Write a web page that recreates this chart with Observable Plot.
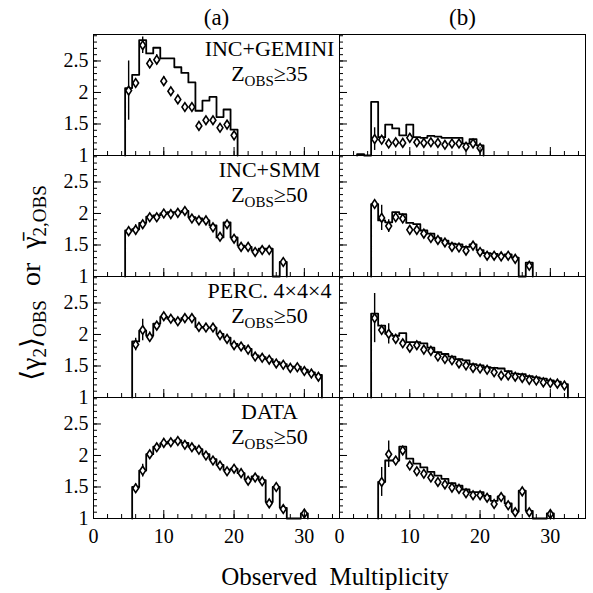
<!DOCTYPE html>
<html>
<head>
<meta charset="utf-8">
<script src="https://cdn.jsdelivr.net/npm/d3@7"></script>
<script src="https://cdn.jsdelivr.net/npm/@observablehq/plot@0.6"></script>
<style>
  html, body { margin: 0; padding: 0; background: #fff; }
  #chart { width: 593px; height: 593px; }
</style>
</head>
<body>
<div id="chart"></div>
<script>
// ---------- categories & tick labels ----------
const columns = ["(a)", "(b)"];
const models = ["INC+GEMINI", "INC+SMM", "PERC. 4×4×4", "DATA"];
const zCuts = ["Z_OBS≥35", "Z_OBS≥50", "Z_OBS≥50", "Z_OBS≥50"];
const xTicksMajor = [0, 10, 20, 30];
const xTicksMinor = [0, 2, 4, 6, 8, 10, 12, 14, 16, 18, 20, 22, 24, 26, 28, 30, 32, 34];
const yTicksMajor = [1, 1.5, 2, 2.5];
const yTicksMinor = [1.1, 1.2, 1.3, 1.4, 1.5, 1.6, 1.7, 1.8, 1.9, 2.0, 2.1, 2.2, 2.3, 2.4, 2.5, 2.6, 2.7, 2.8, 2.9];

// ---------- series: histogram (first multiplicity + one value per bin) ----------
const histStart_gemA = 5;
const hist_gemA = [2.07, 2.28, 2.83, 2.62, 2.71, 2.54, 2.54, 2.40, 2.31, 2.16, 1.71, 1.87, 1.93, 1.61, 1.73, 1.41];
const histStart_gemB = 3;
const hist_gemB = [1.02, 1.0, 1.85, 1.29, 1.49, 1.43, 1.32, 1.49, 1.29, 1.28, 1.31, 1.30, 1.28, 1.28, 1.28, 1.19, 1.26, 1.16];
const histStart_smmA = 5;
const hist_smmA = [1.73, 1.75, 1.85, 1.95, 1.97, 2.00, 2.02, 2.02, 2.04, 1.94, 1.92, 1.89, 1.81, 1.62, 1.86, 1.62, 1.49, 1.47, 1.41, 1.44, 1.44, 1.0, 1.23];
const histStart_smmB = 5;
const hist_smmB = [2.15, 1.89, 1.86, 2.02, 1.99, 1.85, 1.83, 1.73, 1.68, 1.61, 1.57, 1.52, 1.51, 1.47, 1.51, 1.42, 1.37, 1.36, 1.33, 1.35, 1.30, 1.0, 1.22];
const histStart_percA = 6;
const hist_percA = [1.89, 2.06, 1.98, 2.17, 2.28, 2.25, 2.22, 2.26, 2.26, 2.12, 2.11, 2.11, 2.01, 1.95, 1.85, 1.82, 1.77, 1.67, 1.64, 1.61, 1.56, 1.53, 1.49, 1.49, 1.44, 1.40, 1.36];
const histStart_percB = 5;
const hist_percB = [2.33, 2.14, 2.01, 1.98, 2.02, 1.88, 1.88, 1.86, 1.79, 1.72, 1.69, 1.65, 1.61, 1.59, 1.53, 1.51, 1.48, 1.47, 1.46, 1.42, 1.38, 1.37, 1.34, 1.32, 1.30, 1.27, 1.25, 1.21];
const histStart_dataA = 6;
const hist_dataA = [1.50, 1.76, 2.02, 2.14, 2.19, 2.22, 2.24, 2.20, 2.14, 2.10, 2.02, 1.94, 1.85, 1.77, 1.79, 1.72, 1.62, 1.67, 1.61, 1.26, 1.50, 1.17, 1.0, 1.0, 1.08];
const histStart_dataB = 6;
const hist_dataB = [1.58, 1.92, 1.92, 2.14, 1.95, 1.87, 1.81, 1.74, 1.68, 1.63, 1.56, 1.52, 1.46, 1.42, 1.42, 1.36, 1.28, 1.35, 1.24, 1.11, 1.44, 1.12, 1.0, 1.0, 1.08];

// ---------- series: diamonds (first multiplicity + value per bin, null = none) ----------
const ptsStart_gemA = 5;
const pts_gemA = [2.03, 2.15, 2.75, 2.46, 2.52, 2.18, 2.02, 1.89, 1.77, 1.77, 1.47, 1.56, 1.56, 1.44, 1.49, 1.32];
const err_gemA = [0.47, 0.05, 0.13, 0.08, 0.08, 0.07, 0.05, 0.04, 0.04, 0.04, 0.04, 0.04, 0.04, 0.04, 0.04, 0.04];
const ptsStart_gemB = 5;
const pts_gemB = [1.26, 1.25, 1.19, 1.21, 1.20, 1.28, 1.21, 1.20, 1.21, 1.20, 1.17, 1.19, 1.19, 1.14, 1.19, 1.12];
const err_gemB = [0.18, 0.07, 0.04, 0.04, 0.04, 0.07, 0.04, 0.03, 0.03, 0.03, 0.03, 0.03, 0.03, 0.03, 0.03, 0.03];
const ptsStart_smmA = 5;
const pts_smmA = [1.72, 1.74, 1.83, 1.94, 1.94, 2.00, 1.99, 2.01, 2.04, 1.92, 1.89, 1.89, 1.78, 1.63, 1.83, 1.60, 1.47, 1.47, 1.39, 1.42, 1.42, null, 1.23];
const err_smmA = [0.04, 0.08, 0.05, 0.04, 0.03, 0.03, 0.03, 0.03, 0.03, 0.03, 0.03, 0.03, 0.03, 0.03, 0.04, 0.03, 0.03, 0.03, 0.03, 0.03, 0.03, null, 0.04];
const ptsStart_smmB = 5;
const pts_smmB = [2.15, 1.93, 1.80, 1.94, 1.92, 1.74, 1.74, 1.68, 1.61, 1.58, 1.54, 1.47, 1.46, 1.41, 1.49, 1.39, 1.33, 1.33, 1.32, 1.33, 1.28, null, 1.17];
const err_smmB = [0.04, 0.20, 0.10, 0.04, 0.03, 0.03, 0.03, 0.03, 0.03, 0.03, 0.03, 0.03, 0.03, 0.03, 0.03, 0.03, 0.03, 0.03, 0.03, 0.03, 0.03, null, 0.04];
const ptsStart_percA = 6;
const pts_percA = [1.84, 2.07, 1.96, 2.14, 2.29, 2.25, 2.21, 2.26, 2.26, 2.12, 2.11, 2.11, 1.99, 1.93, 1.83, 1.81, 1.76, 1.65, 1.63, 1.60, 1.54, 1.52, 1.47, 1.48, 1.42, 1.38, 1.33];
const err_percA = [0.10, 0.17, 0.08, 0.04, 0.03, 0.03, 0.03, 0.03, 0.03, 0.03, 0.03, 0.03, 0.03, 0.03, 0.03, 0.03, 0.03, 0.03, 0.03, 0.03, 0.03, 0.03, 0.03, 0.03, 0.03, 0.03, 0.03];
const ptsStart_percB = 5;
const pts_percB = [2.26, 2.07, 2.01, 1.93, 1.86, 1.79, 1.83, 1.76, 1.74, 1.65, 1.61, 1.59, 1.54, 1.51, 1.47, 1.46, 1.44, 1.40, 1.35, 1.35, 1.33, 1.31, 1.28, 1.27, 1.24, 1.23, 1.22, 1.19];
const err_percB = [0.39, 0.04, 0.16, 0.03, 0.03, 0.03, 0.03, 0.03, 0.03, 0.03, 0.03, 0.03, 0.03, 0.03, 0.03, 0.03, 0.03, 0.03, 0.03, 0.03, 0.03, 0.03, 0.03, 0.03, 0.03, 0.03, 0.03, 0.03];
const ptsStart_dataA = 6;
const pts_dataA = [1.48, 1.76, 2.02, 2.13, 2.20, 2.21, 2.23, 2.17, 2.13, 2.09, 2.00, 1.92, 1.84, 1.75, 1.79, 1.72, 1.60, 1.65, 1.59, 1.24, 1.50, 1.15, null, null, 1.08];
const err_dataA = [0.07, 0.10, 0.04, 0.03, 0.03, 0.03, 0.03, 0.03, 0.03, 0.03, 0.03, 0.03, 0.03, 0.03, 0.03, 0.03, 0.03, 0.03, 0.03, 0.04, 0.04, 0.04, null, null, 0.05];
const ptsStart_dataB = 6;
const pts_dataB = [1.58, 2.02, 1.92, 2.08, 1.84, 1.75, 1.71, 1.65, 1.58, 1.54, 1.49, 1.47, 1.40, 1.37, 1.37, 1.33, 1.23, 1.34, 1.21, 1.10, 1.43, 1.10, null, null, 1.07];
const err_dataB = [0.23, 0.21, 0.06, 0.03, 0.03, 0.03, 0.03, 0.03, 0.03, 0.03, 0.03, 0.03, 0.03, 0.03, 0.03, 0.03, 0.03, 0.03, 0.03, 0.04, 0.04, 0.04, null, null, 0.05];

// ---------- tables for the library ----------
const panels = [
  {col: columns[0], row: models[0], hs: histStart_gemA, h: hist_gemA, ps: ptsStart_gemA, p: pts_gemA, e: err_gemA},
  {col: columns[1], row: models[0], hs: histStart_gemB, h: hist_gemB, ps: ptsStart_gemB, p: pts_gemB, e: err_gemB},
  {col: columns[0], row: models[1], hs: histStart_smmA, h: hist_smmA, ps: ptsStart_smmA, p: pts_smmA, e: err_smmA},
  {col: columns[1], row: models[1], hs: histStart_smmB, h: hist_smmB, ps: ptsStart_smmB, p: pts_smmB, e: err_smmB},
  {col: columns[0], row: models[2], hs: histStart_percA, h: hist_percA, ps: ptsStart_percA, p: pts_percA, e: err_percA},
  {col: columns[1], row: models[2], hs: histStart_percB, h: hist_percB, ps: ptsStart_percB, p: pts_percB, e: err_percB},
  {col: columns[0], row: models[3], hs: histStart_dataA, h: hist_dataA, ps: ptsStart_dataA, p: pts_dataA, e: err_dataA},
  {col: columns[1], row: models[3], hs: histStart_dataB, h: hist_dataB, ps: ptsStart_dataB, p: pts_dataB, e: err_dataB}
];
const yBase = 1;
const steps = [];
const points = [];
panels.forEach((P, k) => {
  const id = "p" + k;
  steps.push({id, col: P.col, row: P.row, x: P.hs - 0.5, y: yBase});
  P.h.forEach((v, i) => {
    const m = P.hs + i;
    steps.push({id, col: P.col, row: P.row, x: m - 0.5, y: v});
    steps.push({id, col: P.col, row: P.row, x: m + 0.5, y: v});
  });
  steps.push({id, col: P.col, row: P.row, x: P.hs + P.h.length - 0.5, y: yBase});
  P.p.forEach((v, i) => {
    if (v == null) return;
    points.push({col: P.col, row: P.row, m: P.ps + i, v, e: P.e[i]});
  });
});
const annot = models.map((m, i) => ({col: columns[0], row: m, name: m, z: zCuts[i]}));

// tall open diamond (ROOT style)
const tallDiamond = {
  draw(ctx, size) {
    const r = Math.sqrt(size / Math.PI);
    ctx.moveTo(0, -1.5 * r);
    ctx.lineTo(r, 0);
    ctx.lineTo(0, 1.5 * r);
    ctx.lineTo(-r, 0);
    ctx.closePath();
  }
};

const serif = "'Liberation Serif', 'DejaVu Serif', serif";
const plot = Plot.plot({
  width: 593,
  height: 593,
  marginLeft: 93,
  marginRight: 8,
  marginTop: 33,
  marginBottom: 75,
  style: {fontFamily: serif, fontSize: "20px", color: "#000", background: "#fff", overflow: "visible"},
  x: {domain: [0, 35]},
  y: {domain: [1, 2.92]},
  fx: {domain: columns, padding: 0},
  fy: {domain: models, padding: 0, axis: null},
  marks: [
    Plot.frame({stroke: "#000", strokeWidth: 1}),
    Plot.line(steps, {x: "x", y: "y", z: "id", fx: "col", fy: "row", stroke: "#000", strokeWidth: 1.8, curve: "linear"}),
    Plot.ruleX(points, {x: "m", y1: d => d.v - d.e, y2: d => d.v + d.e, fx: "col", fy: "row", stroke: "#000", strokeWidth: 1.4}),
    Plot.dot(points, {x: "m", y: "v", fx: "col", fy: "row", symbol: tallDiamond, r: 2.9, stroke: "#000", fill: "#fff", strokeWidth: 1.6}),
    // inward ticks on every panel
    Plot.axisX(xTicksMinor, {anchor: "bottom", tickSize: -4, fill: "none", label: null, facetAnchor: null}),
    Plot.axisX(xTicksMajor, {anchor: "bottom", tickSize: -8, fill: "none", label: null, facetAnchor: null}),
    Plot.axisY(yTicksMinor, {anchor: "left", tickSize: -4, fill: "none", label: null, facetAnchor: null}),
    Plot.axisY(yTicksMajor, {anchor: "left", tickSize: -8, fill: "none", label: null, facetAnchor: null}),
    // tick labels
    Plot.axisX(xTicksMajor, {anchor: "bottom", tickSize: 0, tickPadding: 10, fontSize: 20, label: null}),
    Plot.axisY(yTicksMajor, {anchor: "left", tickSize: 0, tickPadding: 5, fontSize: 20, label: null, tickFormat: d => String(d)}),
    Plot.axisFx({anchor: "top", tickSize: 0, tickPadding: 10, fontSize: 23, label: null}),
    // panel annotations
    Plot.text(annot, {fx: "col", fy: "row", text: "name", frameAnchor: "top-right", dx: -70, dy: 14, fontSize: 22, textAnchor: "middle", lineAnchor: "middle"}),
    Plot.text(annot, {fx: "col", fy: "row", text: "z", frameAnchor: "top-right", dx: -70, dy: 39, fontSize: 22, textAnchor: "middle", lineAnchor: "middle"})
  ]
});

const svg = d3.select(plot);

// subscripts in the Z labels
svg.selectAll("text").each(function () {
  const t = this.textContent;
  const m = /^Z_OBS(.*)$/.exec(t);
  if (!m) return;
  const el = d3.select(this);
  el.text(null);
  el.append("tspan").text("Z");
  el.append("tspan").attr("dy", 5).attr("font-size", 15).text("OBS");
  el.append("tspan").attr("dy", -5).text(m[1]);
});

// x title
svg.append("text")
  .attr("x", 335).attr("y", 585)
  .attr("text-anchor", "middle")
  .attr("font-family", serif).attr("font-size", 25)
  .text("Observed\u00a0\u00a0Multiplicity");
// y title
const yt = svg.append("text")
  .attr("transform", "translate(40,283) rotate(-90)")
  .attr("text-anchor", "middle")
  .attr("font-family", serif).attr("font-size", 28);
yt.append("tspan").text("\u27e8\u03b3");
yt.append("tspan").attr("dy", 6).attr("font-size", 19).text("2");
yt.append("tspan").attr("dy", -6).text("\u27e9");
yt.append("tspan").attr("dy", 6).attr("font-size", 19).text("OBS");
yt.append("tspan").attr("dy", -6).text("\u00a0\u00a0or\u00a0\u00a0\u03b3\u0304");
yt.append("tspan").attr("dy", 6).attr("font-size", 19).text("2,OBS");

document.getElementById("chart").appendChild(plot);
</script>
</body>
</html>
